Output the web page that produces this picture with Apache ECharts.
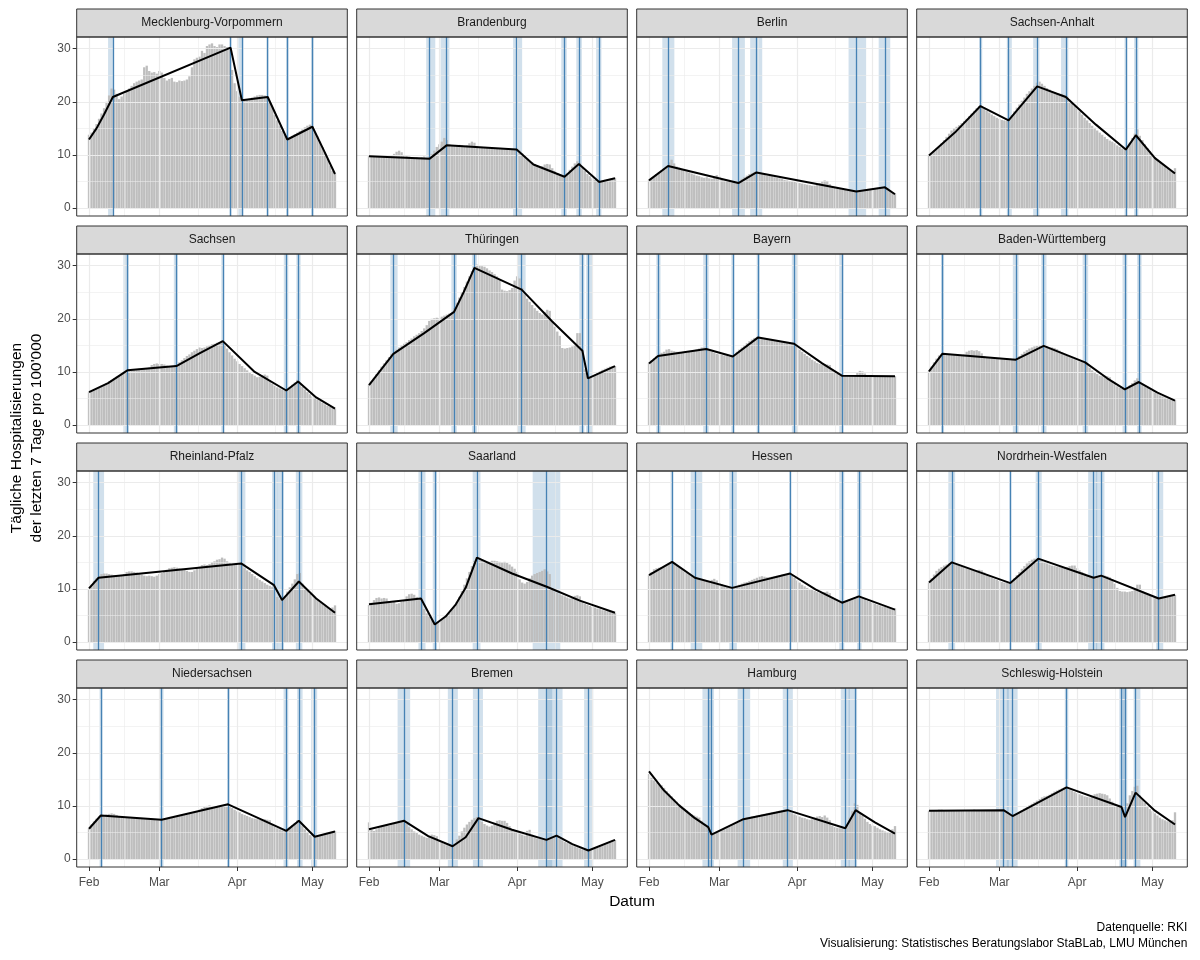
<!DOCTYPE html>
<html><head><meta charset="utf-8">
<script src="https://cdn.jsdelivr.net/npm/echarts@6/dist/echarts.min.js"></script>
<style>html,body{margin:0;padding:0;background:#fff}#c{width:1200px;height:960px}</style>
</head><body><div id="c"></div>
<script>
// ---- tick labels (day index counted from 2021-02-01) ----
const monthTicks = [0, 28, 59, 89];
const monthLabels = ['Feb', 'Mar', 'Apr', 'May'];
const monthMinor = [14, 43.5, 74];
const yTicks = [0, 10, 20, 30];
const yMinor = [5, 15, 25];

// ---- daily values (bars), day 0 = Feb 1 ... day 98 = May 10 ----
const barsMV = [13.8,14.2,15,15.8,16.8,17.8,18.8,20,21.2,22.5, 22.3,21.5,20.5,21,21.5,22,22.5,23,23.5,23.8, 24,24.2,26.5,26.8,25.8,25.5,25.6,25.3,25.8,25.5, 24.5,24,24.3,24.5,23.8,23.7,24,23.9,24,24.2, 24.8,26.5,28,28.3,28.5,29.6,29.2,30.5,30.8,31, 30.5,30.3,30.8,30.8,30.5,30.3,30.2,26,23.5,22, 21,20.5,20.3,20.5,20.6,20.8,21,21.2,21.3,21.3, 21.2,21,20,19,17.5,16.5,15.5,14.5,13.8,13.2, 13.3,13.6,13.9,14.2,14.5,14.8,15.2,15.5,15.7,15.3, 14.2,13.5,12.5,11.5,10.5,9.3,8,7,6.5];
const barsBB = [9.8,9.7,9.8,9.9,9.7,9.8,9.9,9.8,9.7,9.8, 10.2,10.6,10.8,10.5,10,9.8,9.7,9.6,9.5,9.6, 9.5,9.6,9.7,9.5,9.6,10.2,10.8,11.5,12,12.5, 13.2,12.8,12,11.8,11.7,11.8,11.9,11.8,11.7,11.8, 12.2,12.5,12.3,11.7,11.5,11.5,11.4,11.4,11.3,11.3, 11.2,11.2,11.2,11.1,11.2,11.3,11.2,11.1,11,11.2, 10.8,10.3,9.8,9.3,8.9,8.6,8.3,8,7.8,7.9, 8.2,8.3,8.2,7.5,7,6.6,6.2,6,5.9,6.5, 7.2,7.8,8.4,8.8,8.5,7.6,7,6.4,6,5.6, 5.3,5,5,5.2,5.3,5.4,5.5,5.6,5.7];
const barsBE = [5.3,5.6,6,6.4,6.8,7.1,7.5,7.8,8.6,9.1, 8.4,7.8,7.6,7.3,7.1,6.9,6.7,6.5,6.3,6.1, 6,5.8,5.7,5.8,5.6,5.5,6,6.2,5.9,5.4, 5.2,5,4.9,4.8,4.8,4.7,5,5.5,5.8,6.1, 6.4,6.6,6.8,6.7,6.6,6.4,6.3,6.1,6.1,6, 5.8,5.7,5.6,5.5,5.3,5.2,5.1,5,4.9,4.8, 4.7,4.6,4.5,4.4,4.3,4.2,4.2,4.4,4.7,5, 5.2,5.1,4.5,4,3.8,3.7,3.6,3.5,3.4,3.3, 3.2,3.2,3.2,3.3,3.3,3.4,3.5,3.5,3.6,3.6, 3.7,3.8,3.8,3.9,3.9,3.7,3.4,3,2.7];
const barsST = [10,10.3,10.8,11.2,11.6,12.2,12.8,13.4,14,14.6, 15,15.3,15.6,16,16.4,16.8,17.3,17.8,18.3,18.8, 19.2,19,18.7,18.3,18,17.6,17.3,17,16.8,16.6, 16.5,16.4,16.8,17.5,18.2,18.9,19.5,20.2,20.8,21.5, 22,22.5,23,23.6,23.8,23.4,23,22.6,22.3,22, 21.8,21.6,21.5,21.5,21.3,21,20.4,19.8,19.2,18.7, 18.2,17.6,17,16.5,16,15.5,15.1,14.6,14.2,13.8, 13.4,13,12.7,12.5,12.2,11.8,11.5,11.2,11,11.5, 12.3,13.2,14,14.8,13.6,12.8,12,11.3,10.7,10.1, 9.6,9.1,8.7,8.3,7.9,7.5,7.1,7,7.5];
const barsSN = [6.2,6.4,6.6,6.9,7.1,7.4,7.6,7.9,8.2,8.5, 8.8,9.1,9.4,9.7,10,10.3,10.4,10.4,10.5,10.5, 10.6,10.6,10.7,10.7,10.8,11.3,11.5,11.6,11.5,11.5, 11.4,11.2,11.1,11,11.1,11.3,11.8,12.2,12.6,13, 13.3,13.7,14,14.3,14.6,14.5,14.6,14.8,15,15.2, 15.3,15.5,15.6,15.8,15.2,14.4,13.7,13.1,12.5,12, 11.5,11.1,10.7,10.3,9.9,9.6,9.3,9,9.1,9.4, 9.5,9.3,8.4,7.8,7.4,7.1,6.9,6.7,6.5,6.7, 7.2,7.6,8,8.5,7.8,7.2,6.7,6.2,5.8,5.4, 5.1,4.8,4.5,4.2,3.9,3.6,3.4,3.2,3.1];
const barsTH = [7.6,8.2,8.9,9.6,10.3,11,11.6,12.2,12.8,13.4, 13.8,14.2,14.6,15,15.3,15.6,16,16.3,16.7,17, 17.3,17.7,18.2,18.8,19.6,20,20.1,20.2,20.1,20.4, 20.6,20.8,21,21.2,22,23,24,25,26,27, 28,29,29.8,30.2,30.1,29.9,29.8,29.5,29.1,28.8, 28.4,28,27.5,25.5,25.3,25.2,25.4,25.8,27.2,28, 27.6,25.8,24.6,23.8,23.2,22.6,22,21.5,21.1,20.8, 21.3,21.7,21.5,19.5,18.5,17.6,16.8,14.5,14.4,14.5, 14.6,14.8,15,17.3,17.3,14.2,10.5,9.2,9.1,9.3, 9.5,9.8,10.1,10.4,10.6,10.8,11,11.1,11.1];
const barsBY = [11.7,12.2,12.6,13,13.4,13.6,13.8,14.2,14.3,14, 13.9,13.8,13.8,13.7,13.7,13.6,13.8,14,14.1,14.2, 14.4,14.6,14.6,14.3,14,13.8,13.6,13.4,13.3,13.2, 13.1,13,12.9,12.9,13.3,13.8,14.2,14.6,15,15.4, 15.8,16.1,16.4,16.6,16.5,16.3,16.2,16.1,16.1,16, 15.9,15.8,15.8,15.7,15.6,15.5,15.4,15.3,15.1,14.7, 14.2,13.8,13.4,13,12.7,12.3,12,11.7,11.5,11.4, 11.5,11.4,11.3,10.5,10,9.6,9.3,9.2,9.2,9.2, 9.2,9.2,9.3,9.8,10.2,10.1,9.7,9.4,9.3,9.2, 9.2,9.2,9.2,9.2,9.2,9.2,9.2,9.2,9.2];
const barsBW = [10.2,11,11.8,12.5,13.1,13.4,13.4,13.3,13.3,13.2, 13.2,13.1,13.1,13.2,13.3,13.8,14,14.1,14,14.1, 13.9,13.5,13,12.8,12.7,12.6,12.6,12.5,12.5,12.4, 12.4,12.3,12.3,12.3,12.3,12.6,13,13.4,13.8,14.1, 14.4,14.6,14.8,14.9,15,15,14.9,14.8,14.6,14.6, 14.5,14.3,14,13.7,13.4,13.1,12.9,12.6,12.4,12.2, 12,11.9,11.8,11.3,10.8,10.3,9.9,9.6,9.3,9.2, 9.3,9.2,9,8.3,7.7,7.3,7,6.8,6.7,7.1, 7.5,7.9,8.4,8.8,8,7.6,7.3,7,6.7,6.4, 6.1,5.9,5.6,5.4,5.2,5,4.8,4.7,4.7];
const barsRP = [10,10.8,11.5,12,12.4,12.8,12.9,12.9,12.8,12.7, 12.6,12.5,12.5,12.6,12.8,13.2,13.3,13.3,13.2,13.1, 13,12.7,12.5,12.4,12.5,12.4,12.3,12.5,12.8,13, 13.3,13.6,13.9,14,14.1,14,13.9,13.8,13.6,13.4, 13.2,13.2,13.5,13.8,14.2,14.5,14.6,14.5,14.7,15, 15.2,15.5,15.6,15.9,15.7,15.2,14.9,14.7,14.6,14.7, 14.8,14.4,13.9,13.5,13.2,12.8,12.4,12,11.7,11.4, 11.1,10.8,10.6,10.4,9.5,8.5,8,8,8.7,9.5, 10.3,11,11.8,12.8,13,11,10.3,9.7,9.1,8.6, 8.2,7.9,7.5,7.2,6.9,6.6,6.3,6.5,6.9];
const barsSL = [7,7.4,7.9,8.3,8.4,8.2,8.3,8.2,7.5,7.4, 7.6,7.2,7.3,7.6,7.8,8.6,9,9.1,8.9,8.5, 8.2,7.2,6.2,5.4,4.8,4.2,3.6,3.5,3.8,4.2, 4.6,5,5.5,6.1,6.8,7.5,8.5,9.6,10.8,12, 13.2,14.3,15.3,16,15.7,15.5,15.2,15,15.1,15.3, 15.3,15.2,15.1,15,15.1,14.9,14.6,14.2,13.8,13.2, 11.8,11.2,11,11.3,12,12.5,12.8,13,13.2,13.4, 13.7,13.3,12.8,9.8,9.5,9.3,9,8.8,8.6,8.4, 8.2,8.4,8.7,8.8,8.6,7.6,7.2,7,6.8,6.6, 6.5,6.3,6.2,6,5.9,5.8,5.7,5.6,5.5];
const barsHE = [12.6,13.2,13.7,13.9,14,14.1,14.2,14.5,14.8,15.1, 14.8,14.5,14.1,13.7,13.3,13,12.8,12.5,12.2,12, 11.8,11.6,11.5,11.4,11.4,11.7,11.9,11.6,11.1,10.9, 10.6,10.4,10.3,10.2,10.4,10.6,10.8,11,11.2,11.3, 11.5,11.7,11.9,12.1,12.3,12.4,12.3,12.2,12.2,12.3, 12.4,12.5,12.6,12.7,12.8,12.8,12.9,12.6,12.1,11.6, 11.2,10.8,10.5,10.2,10,9.8,9.6,9.4,9.2,9.2, 9.4,9.5,9.2,8.5,8,7.7,7.5,7.4,7.6,7.8, 8,8.2,8.4,8.7,8.6,8.3,8.1,7.8,7.6,7.4, 7.2,7,6.9,6.7,6.6,6.4,6.3,6.2,6.3];
const barsNW = [11.2,12,12.7,13.4,13.8,14.1,14.4,14.6,14.8,15, 14.9,14.7,14.5,14.3,14.1,13.9,13.7,13.6,13.5,13.5, 13.6,13.5,13.1,12.7,12.4,12.1,11.9,11.7,11.5,11.3, 11.2,11.1,11,11.4,12,12.6,13.2,13.8,14.3,14.8, 15.2,15.5,15.7,15.6,15.4,15.2,15,14.8,14.6,14.4, 14.3,14.2,14.1,14,14,14.1,14.3,14.4,14.4,13.9, 13.5,13.2,12.9,12.6,12.4,12.2,12.1,12.2,12.5,12.6, 12.5,12.4,12.2,11.8,11,10.2,9.6,9.5,9.5,9.4, 9.5,9.6,9.9,10.8,10.8,9.6,9.2,9,8.8,8.6, 8.4,8.3,8.3,8.4,8.5,8.6,8.7,8.8,8.9];
const barsNI = [5.8,6.5,7.1,7.6,8,8.2,8.3,8.4,8.5,8.6, 8.5,8.3,8.1,8,7.9,7.9,7.8,7.8,7.7,7.7, 7.6,7.6,7.5,7.5,7.5,7.4,7.4,7.3,7.3,7.4, 7.5,7.6,7.7,7.8,7.9,8,8.1,8.2,8.3,8.4, 8.5,8.6,8.8,9,9.3,9.6,9.9,10,10.1,10, 9.9,9.9,10,10.1,10.2,10.3,9.9,9.6,9.3,9, 8.8,8.5,8.3,8.1,7.9,7.7,7.6,7.5,7.4,7.4, 7.5,7.4,7.3,6.5,6.1,5.8,5.6,5.4,5.3,5.6, 6,6.4,6.8,7.3,6.8,6.2,5.6,5,4.5,4.2, 4.2,4.3,4.5,4.6,4.8,4.9,5,5.1,5.3];
const barsHB = [6.9,5.5,5.3,5.6,5.9,6.1,6.2,6.4,6.3,6.5, 6.7,6.9,7,7.1,7.2,6.6,6,5.6,5.2,4.9, 4.6,4.4,4.2,4,4.4,4.6,4.5,4.3,3.5,3.1, 2.8,2.6,2.4,2.4,2.9,3.7,4.4,5.2,5.9,6.5, 7,7.4,7.7,7.9,7.5,7,6.6,6.3,6.1,6.3, 6.8,7.2,7.3,7.2,7.2,6.8,6.2,5.6,5.3,5.1, 4.8,4.6,4.4,5.3,5.5,4.6,4.1,3.9,3.8,3.7, 3.6,3.8,4,4.2,4.4,4.1,3.8,3.5,3.2,3, 2.8,2.6,2.4,2.2,2,1.8,1.7,1.6,1.6,1.8, 2,2.2,2.4,2.7,2.9,3.1,3.3,3.5,3.6];
const barsHH = [16,15.3,14.8,14.4,14.2,13.9,13.4,12.8,12.3,11.8, 11.3,10.8,10.3,9.9,9.5,9.1,8.7,8.4,8.2,8, 7.8,7.2,6.6,6,5.7,4.8,4.7,5,5.3,5.6, 5.8,6,6.2,6.5,6.8,7,7.2,7.4,7.6,7.8, 7.9,8,8.1,8.2,8.3,8.4,8.5,8.6,8.7,8.8, 8.9,9,9.1,9.2,9.3,9.2,8.9,8.6,8.4,8.2, 8,7.8,7.7,7.5,7.4,7.5,7.8,8,8.1,7.9, 8.2,7.8,7.3,6.3,6,5.9,5.8,5.7,5.4,6.5, 7.8,9,10.5,10.2,8.8,8.2,7.6,7,6.6,6.3, 6.2,5.9,5.6,5.4,5.2,5,4.9,5.6,6.2];
const barsSH = [9.1,9.1,9.2,9.2,9.3,9.3,9.2,9.2,9.2,9.1, 9.1,9.1,9.1,9.2,9.2,9.1,9.1,9.2,9.3,9.2, 9.2,9.1,9.1,9.1,9.1,9.1,9.1,9.1,9.2,9.2, 9,8.7,8.4,8.2,8.4,8.6,8.9,9.2,9.5,9.8, 10.1,10.4,10.7,11,11.3,11.6,11.8,11.9,12.1,12.4, 12.7,12.9,13.1,13.3,13.5,13.3,13.1,12.9,12.6,12.4, 12.2,12,11.8,11.7,11.6,11.9,12.2,12.3,12.4,12.3, 12.2,12,11.4,10.8,10.3,10,9.8,9,8.5,10.5, 12,12.8,13.6,13.8,12,11.3,10.6,10,9.4,9, 8.6,8.2,7.8,7.5,7.3,7.1,7.1,7.3,8.8];

// ---- fitted segmented trend, [day, value] ----
const fitMV = [[0,12.9],[3,15],[6,17.6],[9.5,20.9],[56.4,30.2],[60.9,20.3],[71.2,20.9],[79,12.9],[89,15.3],[93.5,10.9],[98,6.4]];
const fitBB = [[0,9.75],[24.2,9.3],[30.9,11.8],[58.8,11.0],[65.5,8.2],[77.9,5.9],[83.6,8.3],[91.7,4.9],[98,5.6]];
const fitBE = [[0,5.2],[7.6,7.9],[35.6,4.7],[42.8,6.7],[82.6,3.1],[94,3.9],[98,2.6]];
const fitST = [[0,9.9],[10.3,14.2],[20.5,19.2],[31.7,16.5],[43.1,22.9],[54.5,20.9],[66.5,15.7],[78.4,11.0],[82.4,13.7],[90,9.4],[98,6.5]];
const fitSN = [[0,6.2],[7.6,7.9],[15.3,10.3],[34.8,11.1],[44,13.5],[53.3,15.8],[66,10],[78.6,6.5],[83.3,8.2],[90.5,5.2],[98,3.1]];
const fitTH = [[0,7.5],[9.7,13.4],[22,17.3],[33.9,21.3],[37.7,25],[42,29.6],[60.8,25.5],[73,19.5],[85,14],[87.2,8.8],[98,11.1]];
const fitBY = [[0,11.6],[3.6,13],[22.8,14.3],[33.4,12.9],[43.5,16.5],[57.8,15.3],[69,11.6],[76.8,9.3],[98,9.2]];
const fitBW = [[0,10.1],[5.3,13.4],[34.6,12.3],[45.7,14.9],[62.2,11.8],[71,8.8],[78,6.7],[83.6,8.1],[91,6.1],[98,4.6]];
const fitRP = [[0,10.1],[3.8,12.1],[60.6,14.8],[73.7,10.7],[76.9,7.9],[83.6,11.4],[90.5,8.2],[98,5.5]];
const fitSL = [[0,7.1],[20.7,8.2],[26.2,3.3],[30.5,4.8],[34.6,7.1],[38.5,10.2],[43,15.9],[57,12.9],[70.8,10.4],[84,7.8],[98,5.5]];
const fitHE = [[0,12.6],[9.2,15.1],[18.3,12.1],[33.1,10.2],[56.2,12.9],[66.3,9.9],[76.9,7.4],[83.6,8.6],[98,6.1]];
const fitNW = [[0,11.2],[9.1,15],[32.4,11.1],[43.5,15.7],[65.6,12.1],[68.6,12.5],[91.5,8.2],[98,8.9]];
const fitNI = [[0,5.7],[4.7,8.2],[28.9,7.4],[55.4,10.3],[66.6,7.9],[78.6,5.3],[83.6,7.2],[89.9,4.2],[98,5.2]];
const fitHB = [[0,5.6],[14,7.2],[23.6,4.3],[33.3,2.4],[38.5,4.1],[43.6,7.7],[57,5.5],[70.7,3.6],[74.7,4.4],[81,2.8],[87.4,1.6],[98,3.6]];
const fitHH = [[0,16.5],[6,12.9],[12,10.1],[18,7.8],[23.6,6],[24.9,4.6],[37.6,7.5],[55.2,9.2],[78.2,5.8],[82.3,9.2],[90,6.9],[98,4.8]];
const fitSH = [[0,9.1],[29.7,9.2],[33.3,8.1],[54.8,13.5],[76.7,9.8],[78.1,7.9],[82.3,12.5],[90,9.1],[98,6.5]];

// ---- breakpoints (day) ----
const breaksMV = [9.5, 56.4, 60.9, 71.2, 79, 89];
const breaksBB = [24.2, 30.9, 58.8, 77.9, 83.6, 91.7];
const breaksBE = [7.6, 35.6, 42.8, 82.6, 94];
const breaksST = [20.5, 31.7, 43.1, 54.5, 78.4, 82.4];
const breaksSN = [15.3, 34.8, 53.3, 78.6, 83.3];
const breaksTH = [9.7, 33.9, 42, 60.8, 85, 87.2];
const breaksBY = [3.6, 22.8, 33.4, 43.5, 57.8, 76.8];
const breaksBW = [5.3, 34.6, 45.7, 62.2, 78, 83.6];
const breaksRP = [3.8, 60.6, 73.7, 76.9, 83.6];
const breaksSL = [20.7, 26.2, 43, 70.8];
const breaksHE = [9.2, 18.3, 33.1, 56.2, 76.9, 83.6];
const breaksNW = [9.1, 32.4, 43.5, 65.6, 68.6, 91.5];
const breaksNI = [4.7, 28.9, 55.4, 78.6, 83.6, 89.9];
const breaksHB = [14, 33.3, 43.6, 70.7, 74.7, 87.4];
const breaksHH = [23.6, 24.9, 37.6, 55.2, 78.2, 82.3];
const breaksSH = [29.7, 33.3, 54.8, 76.7, 78.1, 82.3];

// ---- confidence intervals of breakpoints [from, to] (day) ----
const bandsMV = [[7.6,9.9],[56,56.8],[59.5,61.5],[70.8,71.6],[78.5,79.5],[88.5,89.5]];
const bandsBB = [[22.8,26.4],[28.5,32],[57.4,61],[76.6,78.8],[82.6,84.8],[90.5,92.6]];
const bandsBE = [[5.3,10.1],[33.1,38.2],[40.3,45.1],[79.5,86.5],[91.5,96.1]];
const bandsST = [[20,21.2],[31,33],[41.5,44],[52.6,55.5],[77.9,79],[81.7,83.4]];
const bandsSN = [[13.7,15.9],[33.8,35.4],[52.7,53.9],[77.6,79.4],[82.6,84.3]];
const bandsTH = [[8.5,11.4],[32.8,35],[41,43],[59.1,62.4],[83.8,85.8],[86.5,88.9]];
const bandsBY = [[2.9,4.6],[21.6,23.8],[32.8,34],[42.9,44.1],[56.9,59.1],[75.8,77.5]];
const bandsBW = [[4.8,6],[33.4,35.7],[44.7,46.8],[61.2,63.4],[77.1,79],[82.9,84.7]];
const bandsRP = [[1.7,6],[59.5,62.3],[72.9,75.1],[75,77.6],[82.4,85]];
const bandsSL = [[19.7,22.5],[25.4,27.1],[41.3,44.4],[65.2,76.2]];
const bandsHE = [[8.6,9.6],[16.6,21.2],[32,35],[55.8,56.6],[75.8,77.8],[82.9,84.7]];
const bandsNW = [[7.7,10.4],[32,32.8],[42.5,44.9],[63.4,67],[66.5,69.9],[90.5,93.3]];
const bandsNI = [[4.2,5.4],[27.9,29.7],[55,56],[77.5,79.4],[82.9,85.1],[88.5,90.9]];
const bandsHB = [[11.4,16.4],[31.4,35.4],[41.4,45.4],[67.4,73],[71,77.1],[85.7,89.3]];
const bandsHH = [[21.3,24.5],[23.5,25.9],[35.3,40.3],[53.3,57.3],[76.4,80],[79.5,82.9]];
const bandsSH = [[26.7,31.8],[31,35.3],[54.1,55.5],[75.8,78],[77,79],[81.5,84.2]];

const panels = [
  ['Mecklenburg-Vorpommern', barsMV, fitMV, breaksMV, bandsMV],
  ['Brandenburg', barsBB, fitBB, breaksBB, bandsBB],
  ['Berlin', barsBE, fitBE, breaksBE, bandsBE],
  ['Sachsen-Anhalt', barsST, fitST, breaksST, bandsST],
  ['Sachsen', barsSN, fitSN, breaksSN, bandsSN],
  ['Thüringen', barsTH, fitTH, breaksTH, bandsTH],
  ['Bayern', barsBY, fitBY, breaksBY, bandsBY],
  ['Baden-Württemberg', barsBW, fitBW, breaksBW, bandsBW],
  ['Rheinland-Pfalz', barsRP, fitRP, breaksRP, bandsRP],
  ['Saarland', barsSL, fitSL, breaksSL, bandsSL],
  ['Hessen', barsHE, fitHE, breaksHE, bandsHE],
  ['Nordrhein-Westfalen', barsNW, fitNW, breaksNW, bandsNW],
  ['Niedersachsen', barsNI, fitNI, breaksNI, bandsNI],
  ['Bremen', barsHB, fitHB, breaksHB, bandsHB],
  ['Hamburg', barsHH, fitHH, breaksHH, bandsHH],
  ['Schleswig-Holstein', barsSH, fitSH, breaksSH, bandsSH]
];

// ---- layout ----
const FONT = '"Liberation Sans", Arial, Helvetica, sans-serif';
const L0 = 76.7, CW = 270.6, CP = 280;
const T0 = 37, PH = 179, RP = 217, SH = 28;
const XMIN = -4.9, XMAX = 102.9, YMIN = -1.5, YMAX = 32.2;

const grids = [], xAxes = [], yAxes = [], series = [], graphics = [];
panels.forEach((p, i) => {
  const col = i % 4, row = Math.floor(i / 4);
  const left = L0 + col * CP, top = T0 + row * RP;
  const bottomRow = row === 3, leftCol = col === 0;
  grids.push({ left: left, top: top, width: CW, height: PH, show: true, backgroundColor: '#fff', borderWidth: 0, containLabel: false });
  xAxes.push({
    type: 'value', gridIndex: i, min: XMIN, max: XMAX,
    axisLine: { show: false, onZero: false },
    splitLine: { show: false },
    axisTick: { show: bottomRow, customValues: monthTicks, length: 4, lineStyle: { color: '#333333', width: 1 } },
    axisLabel: { show: bottomRow, customValues: monthTicks, margin: 10, color: '#4D4D4D', fontSize: 12, fontFamily: FONT,
      formatter: v => monthLabels[monthTicks.indexOf(v)] || '' }
  });
  yAxes.push({
    type: 'value', gridIndex: i, min: YMIN, max: YMAX,
    axisLine: { show: false, onZero: false },
    splitLine: { show: false },
    axisTick: { show: leftCol, customValues: yTicks, length: 4, lineStyle: { color: '#333333', width: 1 } },
    axisLabel: { show: leftCol, customValues: yTicks, margin: 6, color: '#4D4D4D', fontSize: 12, fontFamily: FONT }
  });
  const gl = [];
  monthTicks.forEach(v => gl.push({ xAxis: v, lineStyle: { width: 1.2 } }));
  monthMinor.forEach(v => gl.push({ xAxis: v, lineStyle: { width: 0.6 } }));
  yTicks.forEach(v => gl.push({ yAxis: v, lineStyle: { width: 1.2 } }));
  yMinor.forEach(v => gl.push({ yAxis: v, lineStyle: { width: 0.6 } }));
  series.push({
    type: 'line', xAxisIndex: i, yAxisIndex: i, data: [], silent: true, z: 1,
    markLine: { silent: true, symbol: ['none', 'none'], label: { show: false }, animation: false,
      lineStyle: { color: '#EBEBEB', type: 'solid' }, data: gl }
  });
  series.push({
    type: 'bar', xAxisIndex: i, yAxisIndex: i, silent: true, z: 2, barWidth: '92%',
    itemStyle: { color: '#BEBEBE' },
    data: p[1].map((v, d) => [d, v])
  });
  series.push({
    type: 'line', xAxisIndex: i, yAxisIndex: i, data: [], silent: true, z: 3,
    markArea: { silent: true, animation: false, itemStyle: { color: 'rgba(70,130,180,0.25)' },
      data: p[4].map(b => [{ xAxis: b[0] }, { xAxis: b[1] }]) },
    markLine: { silent: true, symbol: ['none', 'none'], label: { show: false }, animation: false,
      lineStyle: { color: '#4682B4', width: 1.3, type: 'solid' },
      data: p[3].map(v => ({ xAxis: v })) }
  });
  series.push({
    type: 'line', xAxisIndex: i, yAxisIndex: i, silent: true, z: 5,
    data: p[2], showSymbol: false, symbol: 'none',
    lineStyle: { color: '#000', width: 2 }
  });
  // strip
  graphics.push({ type: 'rect', z: 100, shape: { x: left, y: top - SH, width: CW, height: SH },
    style: { fill: '#D9D9D9', stroke: '#333333', lineWidth: 1 } });
  graphics.push({ type: 'text', z: 101, x: left + CW / 2, y: top - SH / 2,
    style: { text: p[0], fill: '#1A1A1A', font: '12px ' + FONT, textAlign: 'center', textVerticalAlign: 'middle' } });
  // panel border
  graphics.push({ type: 'rect', z: 100, shape: { x: left, y: top, width: CW, height: PH },
    style: { fill: 'none', stroke: '#333333', lineWidth: 1 } });
});

const midX = L0 + (3 * CP + CW) / 2;
graphics.push({ type: 'text', z: 101, x: midX, y: 902,
  style: { text: 'Datum', fill: '#000', font: '15.5px ' + FONT, textAlign: 'center', textVerticalAlign: 'middle' } });
graphics.push({ type: 'text', z: 101, x: 27, y: (T0 - SH + T0 + 3 * RP + PH) / 2, rotation: Math.PI / 2,
  style: { text: 'Tägliche Hospitalisierungen\nder letzten 7 Tage pro 100\'000', fill: '#000', font: '15.5px ' + FONT,
    textAlign: 'center', textVerticalAlign: 'middle', lineHeight: 20 } });
const rightX = L0 + 3 * CP + CW;
graphics.push({ type: 'text', z: 101, x: rightX, y: 928,
  style: { text: 'Datenquelle: RKI', fill: '#000', font: '12px ' + FONT, textAlign: 'right', textVerticalAlign: 'middle' } });
graphics.push({ type: 'text', z: 101, x: rightX, y: 944,
  style: { text: 'Visualisierung: Statistisches Beratungslabor StaBLab, LMU München', fill: '#000', font: '12px ' + FONT, textAlign: 'right', textVerticalAlign: 'middle' } });

const chart = echarts.init(document.getElementById('c'), null, { renderer: 'canvas' });
chart.setOption({
  animation: false,
  backgroundColor: '#fff',
  grid: grids, xAxis: xAxes, yAxis: yAxes, series: series,
  graphic: { elements: graphics }
});
</script></body></html>
